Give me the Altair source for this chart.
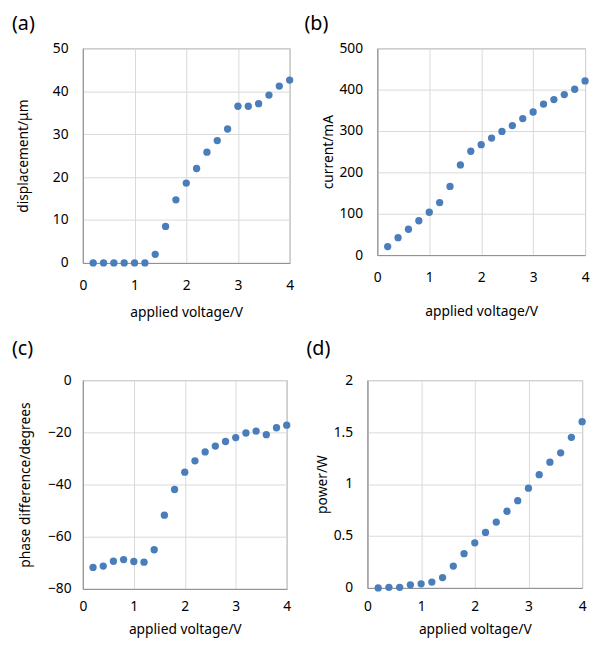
import altair as alt
import pandas as pd

# ---- data ----
voltage = [0.2, 0.4, 0.6, 0.8, 1.0, 1.2, 1.4, 1.6, 1.8, 2.0,
           2.2, 2.4, 2.6, 2.8, 3.0, 3.2, 3.4, 3.6, 3.8, 4.0]
displacement = [0.0, 0.0, 0.0, 0.0, 0.0, 0.0, 2.0, 8.5, 14.7, 18.6,
                22.0, 25.8, 28.5, 31.2, 36.5, 36.5, 37.1, 39.1, 41.2, 42.6]
current = [20.6, 42, 62.5, 83, 103.6, 127, 166, 218, 251, 267,
           283, 299, 313, 330, 346, 365, 376, 388, 401, 421]
phase = [-71.75, -71.25, -69.4, -68.75, -69.5, -69.75, -65.0, -51.75, -41.9, -35.25,
         -30.9, -27.5, -25.25, -23.5, -22.0, -20.25, -19.5, -20.9, -18.25, -17.25]
power = [0.0, 0.006, 0.006, 0.03, 0.04, 0.056, 0.10, 0.21, 0.33, 0.434,
         0.534, 0.634, 0.738, 0.84, 0.96, 1.09, 1.21, 1.30, 1.45, 1.60]

x_ticks = [0, 1, 2, 3, 4]
x_title = "applied voltage/V"

FONT = "Noto Sans"
DOT = "#4a7ebb"


def panel(label, values, ytitle, ydomain, yticks, yfmt, w, h, ldx, loff,
          ylabpad, ytitlex, xlabpad, xtitley):
    df = pd.DataFrame({"v": voltage, "y": values})
    return (
        alt.Chart(
            df,
            title=alt.TitleParams(
                label, anchor="start", frame="group", dx=ldx, offset=loff,
                fontSize=20, font=FONT, fontWeight="normal", color="black",
            ),
        )
        .mark_circle(size=55, color=DOT, opacity=1)
        .encode(
            x=alt.X(
                "v:Q",
                scale=alt.Scale(domain=[0, 4], nice=False, zero=False),
                axis=alt.Axis(
                    values=x_ticks, title=x_title, labelFlush=False, format="d",
                    labelPadding=xlabpad, titleBaseline="middle",
                    titleX=w / 2, titleY=xtitley,
                ),
            ),
            y=alt.Y(
                "y:Q",
                scale=alt.Scale(domain=ydomain, nice=False, zero=False),
                axis=alt.Axis(
                    values=yticks, title=ytitle, labelFlush=False, format=yfmt,
                    labelPadding=ylabpad, titleBaseline="middle",
                    titleX=ytitlex, titleY=h / 2,
                ),
            ),
        )
        .properties(width=w, height=h)
    )


a = panel("(a)", displacement, "displacement/μm", [0, 50], [0, 10, 20, 30, 40, 50], "d",
          210, 218, -72, 8, 15, -60, 16, 50)
b = panel("(b)", current, "current/mA", [0, 500], [0, 100, 200, 300, 400, 500], "d",
          211, 210, -74, 8, 15, -49, 16, 57)
c = panel("(c)", phase, "phase difference/degrees", [-80, 0], [-80, -60, -40, -20, 0], "d",
          207, 212, -72, 15, 12, -58, 11, 41)
d = panel("(d)", power, "power/W", [0, 2], [0, 0.5, 1, 1.5, 2], ".1~f",
          218, 211, -62, 15, 15, -46, 12, 42)

row1 = alt.hconcat(a, b, spacing=9)
row2 = alt.hconcat(c, d, spacing=14)

chart = (
    alt.vconcat(row1, row2, spacing=18)
    .properties(padding={"left": 3, "top": 0, "right": 0, "bottom": 0})
    .configure_view(stroke="#8c8c8c", strokeWidth=1)
    .configure_axis(
        grid=True, gridColor="#d9d9d9", gridWidth=1,
        domainColor="#8c8c8c", domainWidth=1,
        ticks=False, tickSize=0,
        labelFont=FONT, labelFontSize=14, labelColor="black",
        titleFont=FONT, titleFontSize=14, titleFontWeight="normal", titleColor="black",
    )
    .configure_concat(spacing=10)
)

chart.save("out.html", embed_options={"renderer": "svg", "actions": False})
